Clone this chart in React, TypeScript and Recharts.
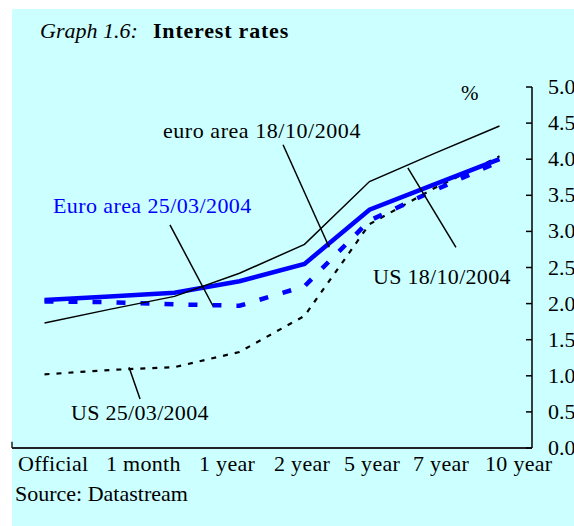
import React from "react";
import { LineChart, Line, XAxis, YAxis, ReferenceLine } from "recharts";

// maturity points on the curve (x index), labels shown under the axis
const points = [0, 1, 2, 3, 4, 5, 6, 7];
const maturityLabels = ["Official", "1 month", "1 year", "2 year", "5 year", "7 year", "10 year"];
const labelX = [18, 106, 199, 274, 344, 413, 485];

// yields, %
const usOct = [1.73, 1.92, 2.1, 2.42, 2.82, 3.69, 4.08, 4.46];
const euroOct = [2.05, 2.1, 2.15, 2.31, 2.55, 3.3, 3.65, 4.0];
const euroMar = [2.03, 2.02, 1.99, 1.97, 2.24, 3.15, 3.57, 3.97];
const usMar = [1.02, 1.08, 1.12, 1.33, 1.83, 3.1, 3.6, 4.04];

const yTicks = [0, 0.5, 1, 1.5, 2, 2.5, 3, 3.5, 4, 4.5, 5];

// leader lines for the series labels (in chart units)
const leaders = [
  [{ x: 3.67, y: 4.2 }, { x: 4.38, y: 2.78 }],
  [{ x: 1.93, y: 3.09 }, { x: 2.59, y: 1.97 }],
  [{ x: 5.59, y: 3.88 }, { x: 6.33, y: 2.78 }],
  [{ x: 1.3, y: 1.12 }, { x: 1.47, y: 0.68 }],
];

const data = points.map((i) => ({
  i,
  usOct: usOct[i],
  euroOct: euroOct[i],
  euroMar: euroMar[i],
  usMar: usMar[i],
}));

const FONT = "'Liberation Serif', 'Times New Roman', serif";

function RightTick(props: any) {
  const { x, y, payload } = props;
  const axisX = x - 16;
  return (
    <g>
      <line x1={axisX - 6} x2={axisX} y1={y} y2={y} stroke="#000" strokeWidth={1.5} />
      <text x={x} y={y} dy={7} fontSize={22} fontFamily={FONT} fill="#000">
        {Number(payload.value).toFixed(1)}
      </text>
    </g>
  );
}

export default function App() {
  return (
    <div style={{ position: "relative", width: 574, height: 526, background: "#fff", overflow: "hidden" }}>
      <style>{"body{margin:0}"}</style>
      <div style={{ position: "absolute", left: 12, top: 9, right: 0, bottom: 0, background: "#ccffff" }} />
      <div style={{ position: "absolute", left: 0, top: 0 }}>
        <LineChart width={574} height={526} data={data} margin={{ top: 87, right: 2, bottom: 78, left: 12 }}>
          <XAxis dataKey="i" type="number" domain={[-0.5, 7.5]} hide />
          <YAxis
            orientation="right"
            domain={[0, 5]}
            ticks={yTicks}
            width={40}
            tickSize={16}
            tickMargin={0}
            tickLine={false}
            axisLine={{ stroke: "#000", strokeWidth: 1.5 }}
            tick={<RightTick />}
            interval={0}
          />
          <ReferenceLine y={0} stroke="#222" strokeWidth={1.8} />
          <ReferenceLine segment={[{ x: -0.5, y: 0 }, { x: -0.5, y: 0.085 }]} stroke="#222" strokeWidth={1.5} />
          <Line dataKey="usMar" stroke="#000" strokeWidth={2.2} strokeDasharray="5 7" dot={false} isAnimationActive={false} />
          <Line dataKey="euroMar" stroke="#0000ff" strokeWidth={4.5} strokeDasharray="9 15" dot={false} isAnimationActive={false} />
          <Line dataKey="euroOct" stroke="#0000ff" strokeWidth={4.5} dot={false} isAnimationActive={false} />
          <Line dataKey="usOct" stroke="#000" strokeWidth={1.5} dot={false} isAnimationActive={false} />
          {leaders.map((seg, k) => (
            <ReferenceLine key={k} segment={seg} stroke="#000" strokeWidth={1.5} />
          ))}
        </LineChart>
      </div>
      <svg width={574} height={526} style={{ position: "absolute", left: 0, top: 0, pointerEvents: "none" }} fontFamily={FONT}>
        <text x={40} y={38} fontSize={22}>
          <tspan fontStyle="italic">Graph 1.6:</tspan>
          <tspan x={153} fontWeight="bold" letterSpacing={0.8}>Interest rates</tspan>
        </text>
        <text x={461} y={100} fontSize={21}>%</text>
        <text x={163} y={138} fontSize={22} letterSpacing={0.55}>euro area 18/10/2004</text>
        <text x={53} y={213} fontSize={22} letterSpacing={0.4} fill="#0000ff">Euro area 25/03/2004</text>
        <text x={373} y={284} fontSize={22} letterSpacing={0.3}>US 18/10/2004</text>
        <text x={71} y={420} fontSize={22} letterSpacing={0.3}>US 25/03/2004</text>
        {maturityLabels.map((m, k) => (
          <text key={m} x={labelX[k]} y={471} fontSize={22} letterSpacing={0.3}>{m}</text>
        ))}
        <text x={15} y={501} fontSize={22}>Source: Datastream</text>
      </svg>
    </div>
  );
}
